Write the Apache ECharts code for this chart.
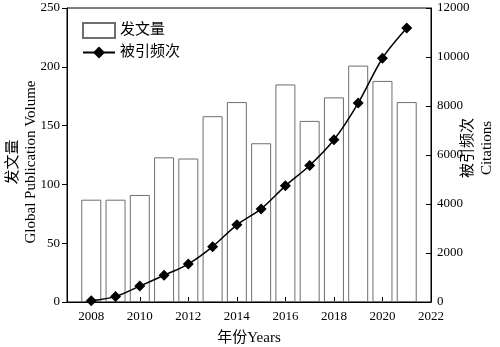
<!DOCTYPE html>
<html>
<head>
<meta charset="utf-8">
<script src="https://cdn.jsdelivr.net/npm/echarts@6/dist/echarts.min.js"></script>
<style>
  html, body { margin: 0; padding: 0; background: #fff; }
  #chart { width: 500px; height: 347px; }
</style>
</head>
<body>
<div id="chart"></div>
<script>
// data
const years = [2008, 2009, 2010, 2011, 2012, 2013, 2014, 2015, 2016, 2017, 2018, 2019, 2020, 2021];
const publications = [87, 87, 91, 123, 122, 158, 170, 135, 185, 154, 174, 201, 188, 170];
const citations = [50, 220, 650, 1090, 1550, 2260, 3150, 3800, 4740, 5570, 6620, 8120, 9950, 11180];
const leftTicks = [0, 50, 100, 150, 200, 250];
const rightTicks = [0, 2000, 4000, 6000, 8000, 10000, 12000];

const serif = "'Liberation Serif', 'Noto Sans CJK SC', serif";

// axis runs one year beyond the data on each side
const xCats = [String(years[0] - 1)].concat(years.map(String), [String(years[years.length - 1] + 1)]);
const pad = (arr) => ['-'].concat(arr, ['-']);
const evenYear = (i) => Number(xCats[i]) % 2 === 0;

const option = {
    animation: false,
    backgroundColor: '#fff',
    grid: {
        left: 67, right: 69, top: 8, bottom: 45,
        containLabel: false,
        outerBoundsMode: 'none',
        show: true, borderColor: '#000', borderWidth: 1
    },
    legend: {
        left: 77, top: 17,
        orient: 'vertical',
        itemWidth: 32, itemHeight: 15, itemGap: 6,
        textStyle: { fontFamily: serif, fontSize: 15, color: '#000' },
        data: [{ name: '发文量', icon: 'rect' }, { name: '被引频次' }]
    },
    xAxis: {
        type: 'category',
        data: xCats,
        boundaryGap: false,
        name: '年份Years',
        nameLocation: 'middle',
        nameGap: 29,
        nameMoveOverlap: false,
        nameTextStyle: { fontFamily: serif, fontSize: 15, color: '#000' },
        axisLine: { lineStyle: { color: '#000', width: 1 } },
        axisTick: { inside: true, length: 5, interval: evenYear, lineStyle: { color: '#000' } },
        axisLabel: { interval: evenYear, margin: 8, fontFamily: serif, fontSize: 13, color: '#000' },
        splitLine: { show: false }
    },
    yAxis: [
        {
            type: 'value',
            min: leftTicks[0], max: leftTicks[leftTicks.length - 1], interval: leftTicks[1] - leftTicks[0],
            name: '发文量\nGlobal Publication Volume',
            nameLocation: 'middle',
            nameGap: 27,
            nameMoveOverlap: false,
            nameTextStyle: { fontFamily: serif, fontSize: 15, color: '#000', lineHeight: 18, padding: [0, 14, 0, 0] },
            axisLine: { show: true, lineStyle: { color: '#000' } },
            axisTick: { show: true, length: 5, lineStyle: { color: '#000' } },
            axisLabel: { margin: 7, fontFamily: serif, fontSize: 13, color: '#000' },
            splitLine: { show: false }
        },
        {
            type: 'value',
            position: 'right',
            min: rightTicks[0], max: rightTicks[rightTicks.length - 1], interval: rightTicks[1] - rightTicks[0],
            name: '被引频次\nCitations',
            nameLocation: 'middle',
            nameGap: 28,
            nameRotate: 90,
            nameMoveOverlap: false,
            nameTextStyle: { fontFamily: serif, fontSize: 15, color: '#000', lineHeight: 19, padding: [0, 0, 0, 14] },
            axisLine: { show: true, lineStyle: { color: '#000' } },
            axisTick: { show: true, inside: true, length: 5, lineStyle: { color: '#000' } },
            axisLabel: { margin: 6, fontFamily: serif, fontSize: 13, color: '#000', formatter: (v) => String(v) },
            splitLine: { show: false }
        }
    ],
    series: [
        {
            name: '发文量',
            type: 'bar',
            yAxisIndex: 0,
            data: pad(publications),
            barWidth: 20,
            itemStyle: { color: 'rgba(255,255,255,0)', borderColor: '#6e6e6e', borderWidth: 1 }
        },
        {
            name: '被引频次',
            type: 'line',
            yAxisIndex: 1,
            data: pad(citations),
            smooth: 0.3,
            symbol: 'diamond',
            symbolSize: 11,
            lineStyle: { color: '#000', width: 1.5 },
            itemStyle: { color: '#000' },
            z: 5
        }
    ]
};

const chart = echarts.init(document.getElementById('chart'));
chart.setOption(option);
</script>
</body>
</html>
